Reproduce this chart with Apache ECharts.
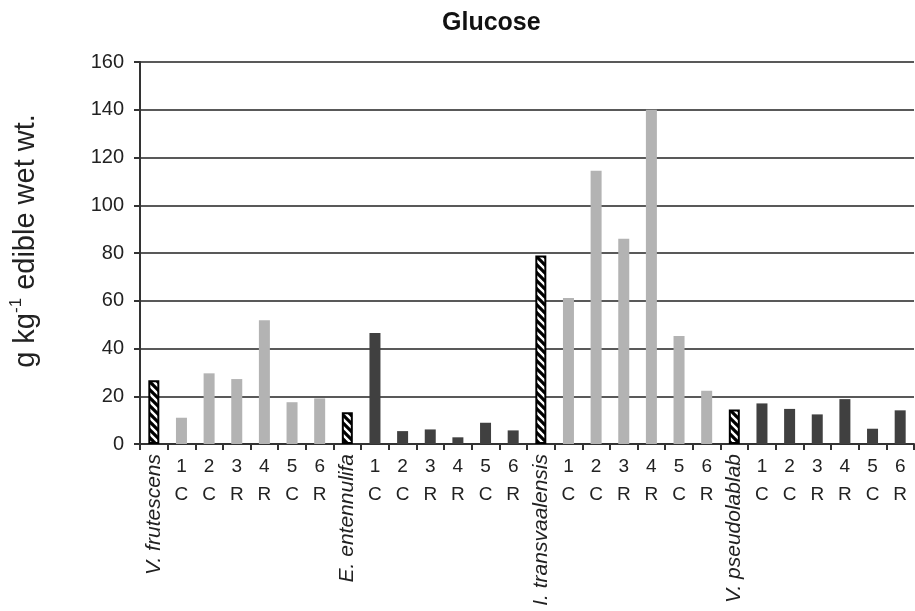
<!DOCTYPE html>
<html>
<head>
<meta charset="utf-8">
<script src="https://cdn.jsdelivr.net/npm/echarts@6/dist/echarts.min.js"></script>
<style>
  html, body { margin: 0; padding: 0; background: #fff; }
  #chart { width: 915px; height: 611px; }
</style>
</head>
<body>
<div id="chart"></div>
<script>
// Species (hatched bars) and their six accessions each
const species = ['V. frutescens', 'E. entennulifa', 'I. transvaalensis', 'V. pseudolablab'];
const accessionNumbers = ['1', '2', '3', '4', '5', '6'];
const accessionTypes = ['C', 'C', 'R', 'R', 'C', 'R'];

// Glucose, g kg-1 edible wet wt.
const speciesValues = [26.7, 13.3, 79, 14.5];
const frutescensValues = [11, 29.6, 27.2, 51.8, 17.5, 19.1];
const entennulifaValues = [46.5, 5.4, 6.1, 2.8, 8.9, 5.7];
const transvaalensisValues = [61.2, 114.5, 86, 140, 45.2, 22.3];
const pseudolablabValues = [17, 14.7, 12.4, 18.8, 6.4, 14.1];

const yTicks = { min: 0, max: 160, interval: 20 };

const groupValues = [frutescensValues, entennulifaValues, transvaalensisValues, pseudolablabValues];
const groupColors = ['#b3b3b3', '#404040', '#b3b3b3', '#404040'];

// Diagonal hatch fill for the species bars
function hatchPattern() {
  const c = document.createElement('canvas');
  c.width = 8; c.height = 8;
  const g = c.getContext('2d');
  g.fillStyle = '#ffffff';
  g.fillRect(0, 0, 8, 8);
  g.strokeStyle = '#000000';
  g.lineWidth = 3.2;
  g.beginPath();
  for (let k = -8; k <= 8; k += 8) {
    g.moveTo(k - 1, -1);
    g.lineTo(k + 9, 9);
  }
  g.stroke();
  return c;
}
const hatch = { image: hatchPattern(), repeat: 'repeat' };

const categories = [];
const isSpecies = [];
const barData = [];
species.forEach((name, gi) => {
  categories.push(name);
  isSpecies.push(true);
  barData.push({
    value: speciesValues[gi],
    itemStyle: { color: hatch, borderColor: '#000', borderWidth: 2 }
  });
  accessionNumbers.forEach((num, ai) => {
    categories.push(num + '\n' + accessionTypes[ai]);
    isSpecies.push(false);
    barData.push({
      value: groupValues[gi][ai],
      itemStyle: { color: groupColors[gi] }
    });
  });
});

const chart = echarts.init(document.getElementById('chart'), null, { renderer: 'canvas' });
const font = 'Liberation Sans, Arial, sans-serif';

chart.setOption({
  animation: false,
  backgroundColor: '#ffffff',
  title: {
    text: 'Glucose',
    left: 437,
    top: 8,
    padding: [3, 5],
    textStyle: { fontFamily: font, fontSize: 25, fontWeight: 'bold', color: '#111' }
  },
  grid: { left: 140, right: 1, top: 62, bottom: 167, containLabel: false, outerBoundsMode: 'none' },
  xAxis: [
    {
      type: 'category',
      data: categories,
      boundaryGap: true,
      axisLine: { lineStyle: { color: '#333', width: 2 } },
      axisTick: { show: true, length: 6, lineStyle: { color: '#333', width: 2 } },
      axisLabel: {
        interval: 0,
        margin: 9,
        fontFamily: font,
        fontSize: 19,
        lineHeight: 28,
        color: '#222',
        formatter: (v, i) => (isSpecies[i] ? '' : v)
      }
    },
    {
      type: 'category',
      data: categories,
      position: 'bottom',
      boundaryGap: true,
      axisLine: { show: false },
      axisTick: { show: false },
      axisLabel: {
        interval: 0,
        rotate: 90,
        margin: 10,
        fontFamily: font,
        fontSize: 21,
        fontStyle: 'italic',
        color: '#222',
        formatter: (v, i) => (isSpecies[i] ? v : '')
      }
    }
  ],
  yAxis: {
    type: 'value',
    min: yTicks.min,
    max: yTicks.max,
    interval: yTicks.interval,
    name: '{t|g kg}{s|-1}{t| edible wet wt.}',
    nameLocation: 'middle',
    nameGap: 100,
    nameRotate: 90,
    nameTextStyle: {
      padding: [0, 0, 0, 24],
      rich: {
        t: { fontFamily: font, fontSize: 29, color: '#222', lineHeight: 32, verticalAlign: 'bottom' },
        s: { fontFamily: font, fontSize: 17, color: '#222', lineHeight: 32, verticalAlign: 'top' }
      }
    },
    axisLine: { show: true, lineStyle: { color: '#333', width: 2 } },
    axisTick: { show: true, length: 6, lineStyle: { color: '#333', width: 2 } },
    axisLabel: { fontFamily: font, fontSize: 20, color: '#222', margin: 16 },
    splitLine: { show: true, lineStyle: { color: '#222', width: 1.5 } }
  },
  series: [
    {
      type: 'bar',
      xAxisIndex: 0,
      barWidth: 11,
      data: barData
    }
  ]
});
</script>
</body>
</html>
